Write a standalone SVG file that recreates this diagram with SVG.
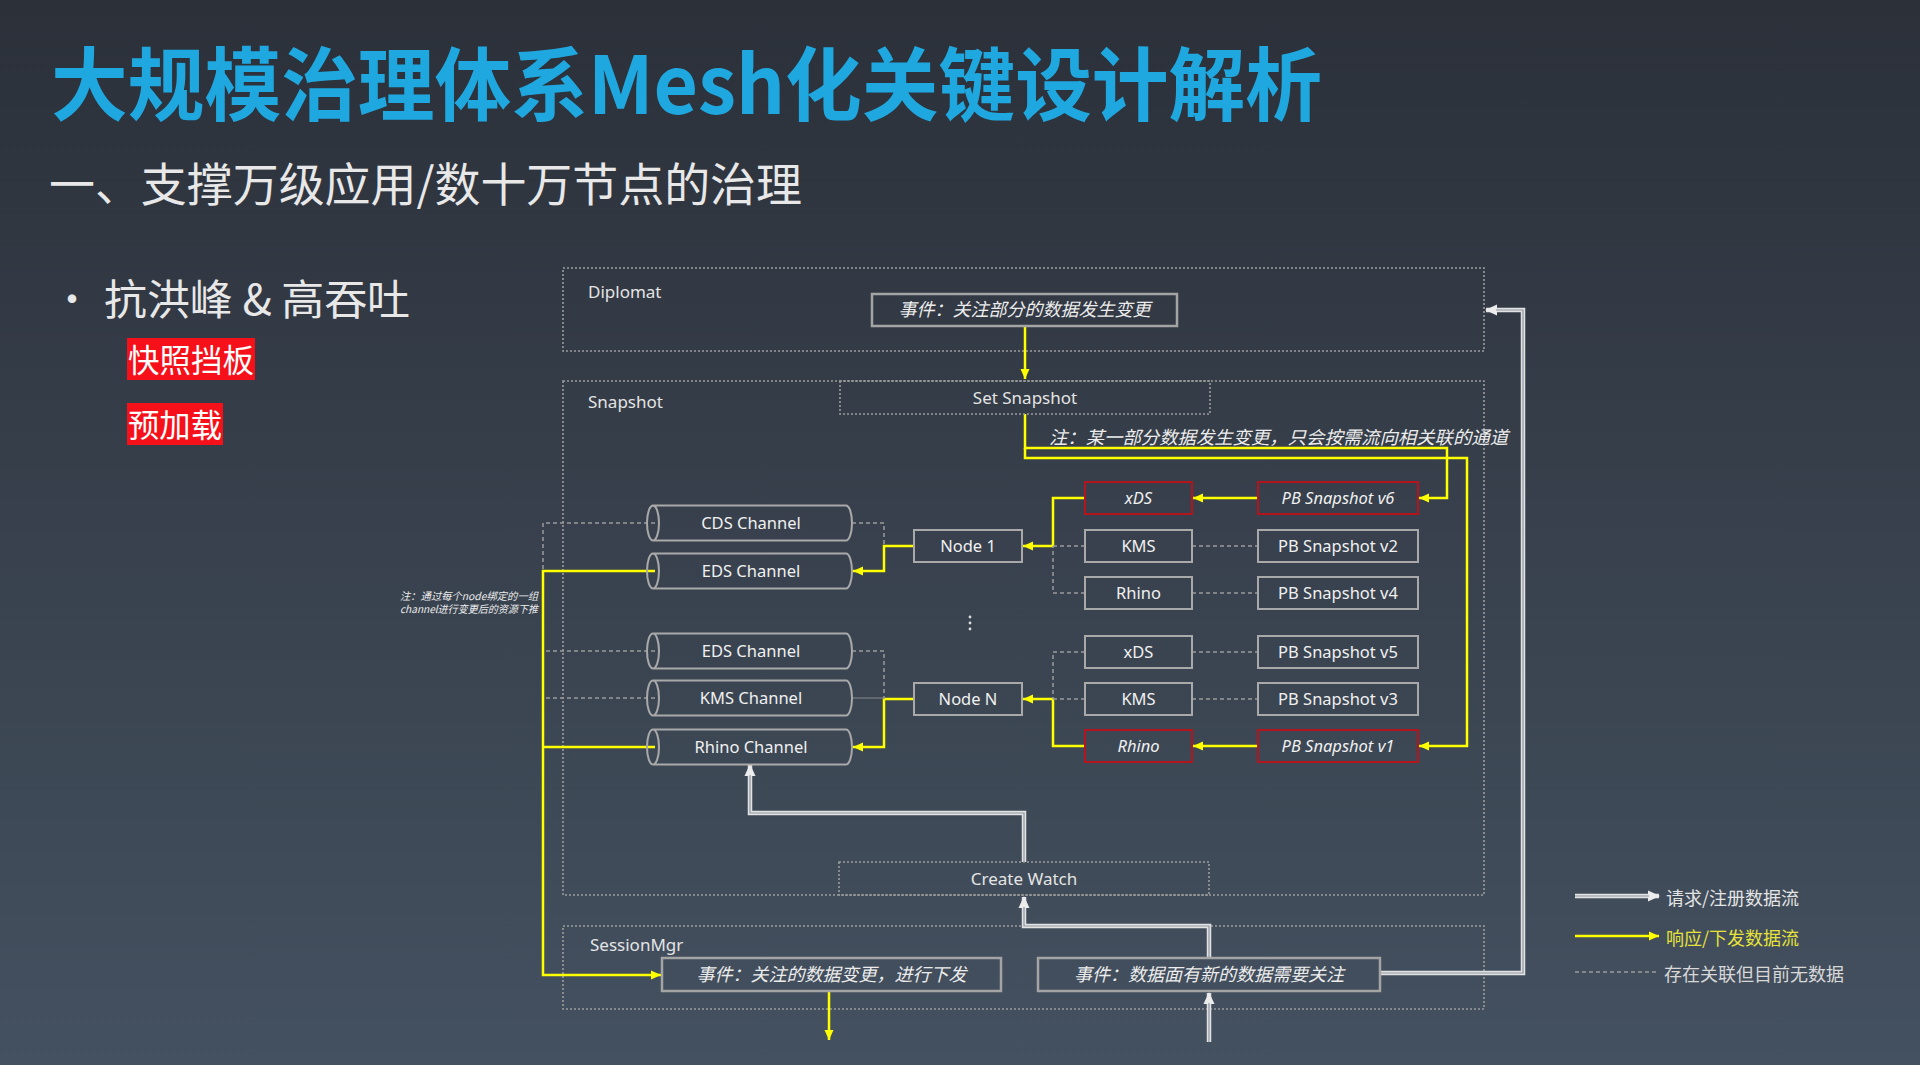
<svg xmlns="http://www.w3.org/2000/svg" width="1920" height="1065" viewBox="0 0 1920 1065">
<defs>
<linearGradient id="bg" x1="0" y1="0" x2="0" y2="1">
<stop offset="0" stop-color="#2b3039"/>
<stop offset="1" stop-color="#445160"/>
</linearGradient>
<marker id="aw" markerUnits="userSpaceOnUse" markerWidth="13" markerHeight="13" refX="11" refY="6.5" orient="auto">
<path d="M0,1 L12,6.5 L0,12 Z" fill="#ececec"/>
</marker>
<marker id="ay" markerUnits="userSpaceOnUse" markerWidth="11" markerHeight="11" refX="10" refY="5.5" orient="auto">
<path d="M0,1 L10,5.5 L0,10 Z" fill="#ffff00"/>
</marker>
<style>
.cjk{font-family:"Noto Sans CJK SC","Noto Sans",sans-serif;}
.lbl{font-family:"Noto Sans","Noto Sans CJK SC",sans-serif;font-size:17px;fill:#e4e4e4;}
.nt{font-family:"Noto Sans","Noto Sans CJK SC",sans-serif;font-size:16.5px;fill:#f0f0f0;text-anchor:middle;}
.it{font-style:italic;}
.ev{font-family:"Noto Sans CJK SC","Noto Sans",sans-serif;font-size:18px;fill:#ececec;font-style:italic;text-anchor:middle;}
.evs{font-family:"Noto Sans CJK SC","Noto Sans",sans-serif;fill:#ececec;font-style:italic;text-anchor:start;}
.cont{fill:none;stroke:#9c9c9c;stroke-width:1.6;stroke-dasharray:2 2;}
.box{fill:none;stroke:#a9a9a9;stroke-width:2;}
.red{fill:none;stroke:#b3141e;stroke-width:2;}
.evb{fill:none;stroke:#a4a4a4;stroke-width:2.5;}
.yl{fill:none;stroke:#ffff00;stroke-width:2.5;}
.ds{fill:none;stroke:#9a9a9a;stroke-width:1.5;stroke-dasharray:4 3;}
.thin{fill:none;stroke:#8a8a8a;stroke-width:1;}
.wo{fill:none;stroke:#e2e2e2;stroke-width:4.5;}
.wi{fill:none;stroke:#8d97a1;stroke-width:1.2;}
</style>
</defs>
<rect x="0" y="0" width="1920" height="1065" fill="url(#bg)"/>

<g id="title">
<text class="cjk" x="51" y="114" font-size="80" font-weight="bold" fill="#1fa8e0" textLength="1271" lengthAdjust="spacingAndGlyphs">大规模治理体系Mesh化关键设计解析</text>
<text class="cjk" x="49" y="201" font-size="46" fill="#e8e8e8" textLength="753" lengthAdjust="spacingAndGlyphs">一、支撑万级应用/数十万节点的治理</text>
</g>

<g id="bullets">
<text class="cjk" x="52" y="314" font-size="40" fill="#e8e8e8">•</text>
<text class="cjk" x="104" y="315" font-size="42" fill="#e8e8e8" textLength="306" lengthAdjust="spacingAndGlyphs">抗洪峰 &amp; 高吞吐</text>
<rect x="127" y="338" width="128" height="42" fill="#f5101a"/>
<text class="cjk" x="128" y="372" font-size="32" fill="#ffffff" textLength="126" lengthAdjust="spacingAndGlyphs">快照挡板</text>
<rect x="127" y="403" width="96" height="42" fill="#f5101a"/>
<text class="cjk" x="128" y="437" font-size="32" fill="#ffffff" textLength="94" lengthAdjust="spacingAndGlyphs">预加载</text>
</g>

<g id="containers">
<rect class="cont" x="563" y="268" width="921" height="83"/>
<text class="lbl" x="588" y="298">Diplomat</text>
<rect class="cont" x="563" y="381" width="921" height="514"/>
<text class="lbl" x="588" y="408">Snapshot</text>
<rect class="cont" x="563" y="926" width="921" height="83"/>
<text class="lbl" x="590" y="951">SessionMgr</text>
</g>

<g id="connectors">
<path class="yl" d="M1025 326 V379" marker-end="url(#ay)"/>
<path class="yl" d="M1025 414 V448 H1447 V498 H1419" marker-end="url(#ay)"/>
<path class="yl" d="M1025 448 V458 H1467 V746 H1419" marker-end="url(#ay)"/>
<path class="yl" d="M1258 498 H1193" marker-end="url(#ay)"/>
<path class="yl" d="M1258 746 H1193" marker-end="url(#ay)"/>
<path class="yl" d="M1085 498 H1053 V546 H1023" marker-end="url(#ay)"/>
<path class="yl" d="M1085 746 H1053 V699 H1023" marker-end="url(#ay)"/>
<path class="yl" d="M914 546 H884 V571 H853" marker-end="url(#ay)"/>
<path class="yl" d="M914 699 H884 V747 H853" marker-end="url(#ay)"/>
<path class="yl" d="M655 571 H543 V975 H661" marker-end="url(#ay)"/>
<path class="yl" d="M655 747 H543"/>
<path class="yl" d="M829 991 V1040" marker-end="url(#ay)"/>
<path class="ds" d="M1192 546 H1258"/>
<path class="ds" d="M1192 593 H1258"/>
<path class="ds" d="M1192 652 H1258"/>
<path class="ds" d="M1192 699 H1258"/>
<path class="ds" d="M1085 546 H1053"/>
<path class="ds" d="M1085 593 H1053 V546"/>
<path class="ds" d="M1085 652 H1053 V699"/>
<path class="ds" d="M1085 699 H1053"/>
<path class="ds" d="M852 523 H884 V546"/>
<path class="ds" d="M852 651 H884 V699"/>
<path class="thin" d="M852 698 H884"/>
<path class="ds" d="M655 523 H543 V571"/>
<path class="ds" d="M655 651 H543"/>
<path class="ds" d="M655 698 H543"/>
<path class="wo" d="M1024 862 V813 H750 V765" marker-end="url(#aw)"/>
<path class="wi" d="M1024 862 V813 H750 V775"/>
<path class="wo" d="M1209 958 V926 H1024 V897" marker-end="url(#aw)"/>
<path class="wi" d="M1209 958 V926 H1024 V907"/>
<path class="wo" d="M1209 1042 V993" marker-end="url(#aw)"/>
<path class="wi" d="M1209 1042 V1003"/>
<path class="wo" d="M1380 973 H1523 V310 H1486" marker-end="url(#aw)"/>
<path class="wi" d="M1380 973 H1523 V310 H1496"/>
</g>

<g id="diplomat-event">
<rect class="evb" x="872" y="294" width="305" height="32"/>
<text class="ev" x="1024.5" y="316">事件：关注部分的数据发生变更</text>
</g>

<g id="set-snapshot">
<rect class="cont" x="840" y="381" width="370" height="33"/>
<text class="lbl" x="1025" y="404" text-anchor="middle">Set Snapshot</text>
</g>

<g id="note-top">
<text class="evs" x="1049" y="444" font-size="18" textLength="459" lengthAdjust="spacingAndGlyphs">注：某一部分数据发生变更，只会按需流向相关联的通道</text>
</g>

<g id="res-xds1"><rect class="red" x="1085" y="482" width="107" height="32"/><text class="nt it" x="1138.5" y="504">xDS</text></g>
<g id="pb-v6"><rect class="red" x="1258" y="482" width="160" height="32"/><text class="nt it" x="1338" y="504">PB Snapshot v6</text></g>
<g id="res-kms1"><rect class="box" x="1085" y="530" width="107" height="32"/><text class="nt" x="1138.5" y="552">KMS</text></g>
<g id="pb-v2"><rect class="box" x="1258" y="530" width="160" height="32"/><text class="nt" x="1338" y="552">PB Snapshot v2</text></g>
<g id="res-rhino1"><rect class="box" x="1085" y="577" width="107" height="32"/><text class="nt" x="1138.5" y="599">Rhino</text></g>
<g id="pb-v4"><rect class="box" x="1258" y="577" width="160" height="32"/><text class="nt" x="1338" y="599">PB Snapshot v4</text></g>
<g id="res-xds2"><rect class="box" x="1085" y="636" width="107" height="32"/><text class="nt" x="1138.5" y="658">xDS</text></g>
<g id="pb-v5"><rect class="box" x="1258" y="636" width="160" height="32"/><text class="nt" x="1338" y="658">PB Snapshot v5</text></g>
<g id="res-kms2"><rect class="box" x="1085" y="683" width="107" height="32"/><text class="nt" x="1138.5" y="705">KMS</text></g>
<g id="pb-v3"><rect class="box" x="1258" y="683" width="160" height="32"/><text class="nt" x="1338" y="705">PB Snapshot v3</text></g>
<g id="res-rhino2"><rect class="red" x="1085" y="730" width="107" height="32"/><text class="nt it" x="1138.5" y="752">Rhino</text></g>
<g id="pb-v1"><rect class="red" x="1258" y="730" width="160" height="32"/><text class="nt it" x="1338" y="752">PB Snapshot v1</text></g>

<g id="node-1"><rect class="box" x="914" y="530" width="108" height="32"/><text class="nt" x="968" y="552">Node 1</text></g>
<g id="node-n"><rect class="box" x="914" y="683" width="108" height="32"/><text class="nt" x="968" y="705">Node N</text></g>

<g id="ellipsis">
<circle cx="970" cy="617" r="1.4" fill="#dddddd"/>
<circle cx="970" cy="623" r="1.4" fill="#dddddd"/>
<circle cx="970" cy="629" r="1.4" fill="#dddddd"/>
</g>

<g id="ch-cds">
<path class="box" d="M653 505.5 H846 A6 17.5 0 0 1 846 540.5 H653 A6 17.5 0 0 1 653 505.5 Z M653 505.5 A6 17.5 0 0 1 653 540.5"/>
<text class="nt" x="751" y="529">CDS Channel</text>
</g>
<g id="ch-eds1">
<path class="box" d="M653 553.5 H846 A6 17.5 0 0 1 846 588.5 H653 A6 17.5 0 0 1 653 553.5 Z M653 553.5 A6 17.5 0 0 1 653 588.5"/>
<text class="nt" x="751" y="577">EDS Channel</text>
</g>
<g id="ch-eds2">
<path class="box" d="M653 633.5 H846 A6 17.5 0 0 1 846 668.5 H653 A6 17.5 0 0 1 653 633.5 Z M653 633.5 A6 17.5 0 0 1 653 668.5"/>
<text class="nt" x="751" y="657">EDS Channel</text>
</g>
<g id="ch-kms">
<path class="box" d="M653 680.5 H846 A6 17.5 0 0 1 846 715.5 H653 A6 17.5 0 0 1 653 680.5 Z M653 680.5 A6 17.5 0 0 1 653 715.5"/>
<text class="nt" x="751" y="704">KMS Channel</text>
</g>
<g id="ch-rhino">
<path class="box" d="M653 729.5 H846 A6 17.5 0 0 1 846 764.5 H653 A6 17.5 0 0 1 653 729.5 Z M653 729.5 A6 17.5 0 0 1 653 764.5"/>
<text class="nt" x="751" y="753">Rhino Channel</text>
</g>

<g id="note-left">
<text class="evs" x="400" y="600" font-size="10.5" textLength="138" lengthAdjust="spacingAndGlyphs">注：通过每个node绑定的一组</text>
<text class="evs" x="400" y="613" font-size="10.5" textLength="138" lengthAdjust="spacingAndGlyphs">channel进行变更后的资源下推</text>
</g>

<g id="create-watch">
<rect class="cont" x="839" y="862" width="370" height="33"/>
<text class="lbl" x="1024" y="885" text-anchor="middle">Create Watch</text>
</g>

<g id="session-event-1">
<rect class="evb" x="662" y="958" width="339" height="33"/>
<text class="ev" x="831.5" y="981">事件：关注的数据变更，进行下发</text>
</g>
<g id="session-event-2">
<rect class="evb" x="1038" y="958" width="342" height="33"/>
<text class="ev" x="1209" y="981">事件：数据面有新的数据需要关注</text>
</g>

<g id="legend">
<path class="wo" d="M1575 896 H1659" marker-end="url(#aw)"/>
<path class="wi" d="M1575 896 H1649"/>
<text class="cjk" x="1666" y="905" font-size="18" fill="#e4e4e4">请求/注册数据流</text>
<path class="yl" d="M1575 936 H1659" marker-end="url(#ay)"/>
<text class="cjk" x="1666" y="945" font-size="18" fill="#e6e23a">响应/下发数据流</text>
<path class="ds" d="M1575 972 H1659"/>
<text class="cjk" x="1664" y="981" font-size="18" fill="#d8d8d8">存在关联但目前无数据</text>
</g>
</svg>
